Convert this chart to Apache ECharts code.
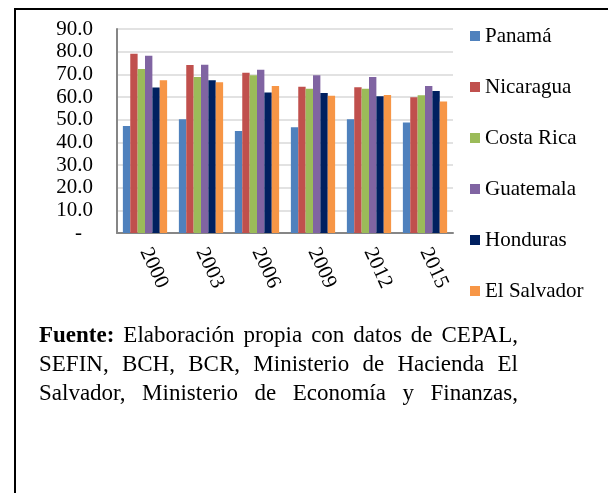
<!DOCTYPE html>
<html>
<head>
<meta charset="utf-8">
<script src="https://cdn.jsdelivr.net/npm/echarts@6/dist/echarts.min.js"></script>
<style>
  html, body { margin: 0; padding: 0; background: #fff; }
  #wrap { position: relative; width: 608px; height: 493px; overflow: hidden; }
  #chart { position: absolute; left: 0; top: 0; width: 608px; height: 493px; }
  .frame-left { position: absolute; left: 14px; top: 8px; width: 2px; height: 485px; background: #000; }
  .frame-top { position: absolute; left: 14px; top: 8px; width: 594px; height: 2px; background: #000; }
  #fuente {
    position: absolute; left: 39px; top: 320px; width: 479px;
    font-family: "Liberation Serif", "Times New Roman", serif;
    font-size: 23px; line-height: 29px; color: #000;
  }
  #fuente div { text-align: justify; text-align-last: justify; white-space: nowrap; }
</style>
</head>
<body>
<div id="wrap">
  <div id="chart"></div>
  <div class="frame-left"></div>
  <div class="frame-top"></div>
  <div id="fuente">
    <div><b>Fuente:</b> Elaboración propia con datos de CEPAL,</div>
    <div>SEFIN, BCH, BCR, Ministerio de Hacienda El</div>
    <div>Salvador, Ministerio de Economía y Finanzas,</div>
  </div>
</div>
<script>
const years = ["2000", "2003", "2006", "2009", "2012", "2015"];
const panama = [47.2, 50.2, 45.0, 46.6, 50.2, 48.8];
const nicaragua = [79.1, 74.1, 70.7, 64.5, 64.3, 59.9];
const costaRica = [72.4, 68.8, 69.6, 63.6, 63.6, 60.8];
const guatemala = [78.2, 74.2, 72.0, 69.6, 68.8, 64.9];
const honduras = [64.2, 67.4, 62.0, 61.8, 60.3, 62.7];
const elSalvador = [67.4, 66.5, 64.9, 60.5, 60.9, 58.0];

const countries = [
  { name: "Panamá", data: panama, color: "#4F81BD" },
  { name: "Nicaragua", data: nicaragua, color: "#C0504D" },
  { name: "Costa Rica", data: costaRica, color: "#9BBB59" },
  { name: "Guatemala", data: guatemala, color: "#8064A2" },
  { name: "Honduras", data: honduras, color: "#002060" },
  { name: "El Salvador", data: elSalvador, color: "#F79646" },
];

const font = "Liberation Serif";
let myChart = echarts.init(document.getElementById("chart"));
myChart.setOption({
  animation: false,
  backgroundColor: "transparent",
  grid: { left: 117, top: 29, width: 336, height: 204 },
  legend: {
    orient: "vertical",
    left: 470,
    top: 25.5,
    padding: 0,
    itemWidth: 10,
    itemHeight: 10,
    itemGap: 30,
    icon: "rect",
    textStyle: { fontFamily: font, fontSize: 21, lineHeight: 21, color: "#000" },
  },
  xAxis: {
    type: "category",
    data: years,
    axisLine: { lineStyle: { color: "#868686", width: 2 } },
    axisTick: { show: false },
    axisLabel: { rotate: -65, margin: 16, fontFamily: font, fontSize: 21, color: "#000" },
  },
  yAxis: {
    type: "value",
    min: 0,
    max: 90,
    interval: 10,
    axisLine: { show: true, lineStyle: { color: "#868686", width: 2 } },
    axisTick: { show: false },
    splitLine: { lineStyle: { color: "#D9D9D9", width: 1.5 } },
    axisLabel: {
      margin: 24,
      fontFamily: font,
      fontSize: 21,
      color: "#000",
      formatter: (v) => (v === 0 ? "{z|-}" : v.toFixed(1)),
      rich: { z: { fontFamily: font, fontSize: 21, color: "#000", padding: [0, 11, 0, 0] } },
    },
  },
  series: countries.map((c) => ({
    name: c.name,
    type: "bar",
    data: c.data,
    barGap: "0%",
    barCategoryGap: "21%",
    itemStyle: { color: c.color },
  })),
});
</script>
</body>
</html>
